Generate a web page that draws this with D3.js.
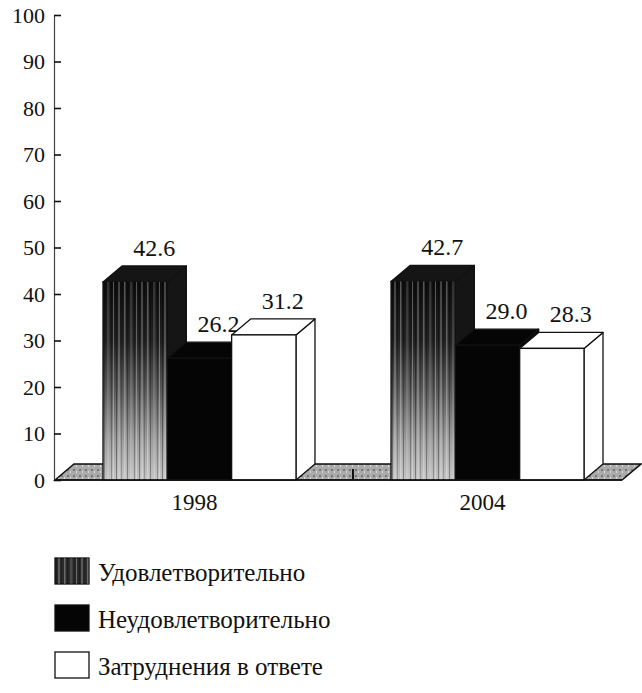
<!DOCTYPE html>
<html>
<head>
<meta charset="utf-8">
<script src="https://cdn.jsdelivr.net/npm/d3@7"></script>
<style>
  body { margin: 0; background: #fff; }
  text { font-family: "Liberation Serif", "DejaVu Serif", serif; fill: #111; }
</style>
</head>
<body>
<div id="chart"></div>
<script>
// data
var YEARS = ["1998", "2004"];
var SERIES = ["Удовлетворительно", "Неудовлетворительно", "Затруднения в ответе"];
var VALUES = {
    "1998": [42.6, 26.2, 31.2],
    "2004": [42.7, 29.0, 28.3]
};
var LABELS = {
    "1998": ["42.6", "26.2", "31.2"],
    "2004": ["42.7", "29.0", "28.3"]
};
var Y_TICKS = [0, 10, 20, 30, 40, 50, 60, 70, 80, 90, 100];

var width = 642, height = 693;
var dx = 19, dy = 16; // 3d depth offset
var SERIF = "'Liberation Serif', 'DejaVu Serif', serif";

var svg = d3.select("#chart").append("svg")
    .attr("width", width)
    .attr("height", height);

var defs = svg.append("defs");

// gradient + streaks for the first series
var grad = defs.append("linearGradient")
    .attr("id", "gradSat")
    .attr("x1", 0).attr("y1", 0).attr("x2", 0).attr("y2", 1);
grad.append("stop").attr("offset", "0%").attr("stop-color", "#0c0c0c");
grad.append("stop").attr("offset", "30%").attr("stop-color", "#222");
grad.append("stop").attr("offset", "55%").attr("stop-color", "#5a5a5a");
grad.append("stop").attr("offset", "80%").attr("stop-color", "#9c9c9c");
grad.append("stop").attr("offset", "100%").attr("stop-color", "#c4c4c4");

// irregular vertical streaks
var STREAKS = [[1, 1, "#000", 0.35], [3, 2, "#fff", 0.22], [6, 1, "#000", 0.2],
    [9, 1.5, "#fff", 0.3], [12, 1, "#000", 0.3], [15, 2.5, "#fff", 0.15],
    [19, 1, "#000", 0.25], [21, 1, "#fff", 0.3]];
var streak = defs.append("pattern")
    .attr("id", "streaks")
    .attr("patternUnits", "userSpaceOnUse")
    .attr("width", 23).attr("height", 40);
streak.selectAll("rect")
    .data(STREAKS)
    .enter().append("rect")
    .attr("x", function (d) { return d[0]; })
    .attr("width", function (d) { return d[1]; })
    .attr("height", 40)
    .attr("fill", function (d) { return d[2]; })
    .attr("opacity", function (d) { return d[3]; });

var floorPat = defs.append("pattern")
    .attr("id", "floorPat")
    .attr("patternUnits", "userSpaceOnUse")
    .attr("width", 6).attr("height", 6);
floorPat.append("rect").attr("width", 6).attr("height", 6).attr("fill", "#aaa");
floorPat.append("rect").attr("x", 1).attr("y", 1).attr("width", 2).attr("height", 2).attr("fill", "#777");
floorPat.append("rect").attr("x", 4).attr("y", 3).attr("width", 1).attr("height", 2).attr("fill", "#ddd");

var FRONT = ["url(#gradSat)", "#050505", "#ffffff"];
var TOP = ["#151515", "#050505", "#ffffff"];

// scales
var y = d3.scaleLinear().domain([0, 100]).range([480, 15]);

var x0 = d3.scaleBand()
    .domain(YEARS)
    .range([103, 584])
    .paddingInner(0.33);

var x1 = d3.scaleBand()
    .domain(d3.range(SERIES.length))
    .range([0, x0.bandwidth()]);

// floor
var fl = 55, fr = 622, fy = y(0);
svg.append("path")
    .attr("d", "M" + fl + "," + fy + "L" + (fl + dx) + "," + (fy - dy) +
        "L" + (fr + dx) + "," + (fy - dy) + "L" + fr + "," + fy + "Z")
    .attr("fill", "url(#floorPat)")
    .attr("stroke", "#111")
    .attr("stroke-width", 1.5);

// separator tick on the floor between groups
var sepX = (x0("1998") + x0.bandwidth() + x0("2004")) / 2 + dx / 2;
svg.append("line")
    .attr("x1", sepX).attr("x2", sepX)
    .attr("y1", fy - dy / 2 - 3).attr("y2", fy - 1)
    .attr("stroke", "#111").attr("stroke-width", 2);

// y axis
var yAxis = d3.axisLeft(y)
    .tickValues(Y_TICKS)
    .tickSizeInner(-7)
    .tickSizeOuter(0)
    .tickPadding(9);

var gy = svg.append("g")
    .attr("transform", "translate(54,0)")
    .call(yAxis)
    .attr("font-family", SERIF)
    .attr("font-size", 22);
gy.select(".domain").attr("stroke", "#444").attr("stroke-width", 1.2);
gy.selectAll(".tick line").attr("stroke", "#111").attr("stroke-width", 1.6);
gy.selectAll(".tick text")
    .style("font-family", SERIF)
    .style("font-size", "22px")
    .attr("fill", "#111");

// bars
var bars = [];
YEARS.forEach(function (yr) {
    VALUES[yr].forEach(function (v, i) {
        bars.push({ year: yr, i: i, value: v, label: LABELS[yr][i] });
    });
});

var g = svg.selectAll("g.bar")
    .data(bars)
    .enter().append("g")
    .attr("class", "bar");

function bx(d) { return x0(d.year) + x1(d.i); }

// side face
g.append("path")
    .attr("d", function (d) {
        var x = bx(d) + x1.bandwidth(), t = y(d.value), b = y(0);
        return "M" + x + "," + t + "L" + (x + dx) + "," + (t - dy) +
            "L" + (x + dx) + "," + (b - dy) + "L" + x + "," + b + "Z";
    })
    .attr("fill", function (d) { return TOP[d.i]; })
    .attr("stroke", "#111")
    .attr("stroke-width", 1.3)
    .attr("stroke-linejoin", "round");

// top face
g.append("path")
    .attr("d", function (d) {
        var x = bx(d), w = x1.bandwidth(), t = y(d.value);
        return "M" + x + "," + t + "L" + (x + dx) + "," + (t - dy) +
            "L" + (x + w + dx) + "," + (t - dy) + "L" + (x + w) + "," + t + "Z";
    })
    .attr("fill", function (d) { return TOP[d.i]; })
    .attr("stroke", "#111")
    .attr("stroke-width", 1.3)
    .attr("stroke-linejoin", "round");

// front face
g.append("rect")
    .attr("x", bx)
    .attr("y", function (d) { return y(d.value); })
    .attr("width", x1.bandwidth())
    .attr("height", function (d) { return y(0) - y(d.value); })
    .attr("fill", function (d) { return FRONT[d.i]; })
    .attr("stroke", "#111")
    .attr("stroke-width", 1.3);

g.filter(function (d) { return d.i === 0; })
    .append("rect")
    .attr("x", bx)
    .attr("y", function (d) { return y(d.value); })
    .attr("width", x1.bandwidth())
    .attr("height", function (d) { return y(0) - y(d.value); })
    .attr("fill", "url(#streaks)");

// value labels
g.append("text")
    .attr("x", function (d) { return bx(d) + x1.bandwidth() / 2 + dx; })
    .attr("y", function (d) { return y(d.value) - dy - 10; })
    .attr("text-anchor", "middle")
    .style("font-family", SERIF)
    .style("font-size", "24px")
    .text(function (d) { return d.label; });

// baseline under everything
svg.append("line")
    .attr("x1", fl).attr("x2", fr)
    .attr("y1", fy).attr("y2", fy)
    .attr("stroke", "#111").attr("stroke-width", 1.5);

// year labels
svg.selectAll("text.year")
    .data(YEARS)
    .enter().append("text")
    .attr("class", "year")
    .attr("x", function (d) { return x0(d) + x0.bandwidth() / 2 - 5; })
    .attr("y", 510)
    .attr("text-anchor", "middle")
    .style("font-family", SERIF)
    .style("font-size", "23px")
    .text(function (d) { return d; });

// legend
var ls_w = 34, ls_h = 26, ls_gap = 47;
var legend = svg.selectAll("g.legend")
    .data(SERIES)
    .enter().append("g")
    .attr("class", "legend")
    .attr("transform", function (d, i) { return "translate(55," + (558 + i * ls_gap) + ")"; });

legend.append("rect")
    .attr("width", ls_w)
    .attr("height", ls_h)
    .attr("fill", function (d, i) { return i === 0 ? "#2a2a2a" : FRONT[i]; })
    .attr("stroke", "#111")
    .attr("stroke-width", 1.3);

legend.filter(function (d, i) { return i === 0; })
    .append("rect")
    .attr("width", ls_w)
    .attr("height", ls_h)
    .attr("fill", "url(#streaks)");

legend.append("text")
    .attr("x", ls_w + 9)
    .attr("y", ls_h - 3)
    .style("font-family", SERIF)
    .style("font-size", "25px")
    .text(function (d) { return d; });
</script>
</body>
</html>
